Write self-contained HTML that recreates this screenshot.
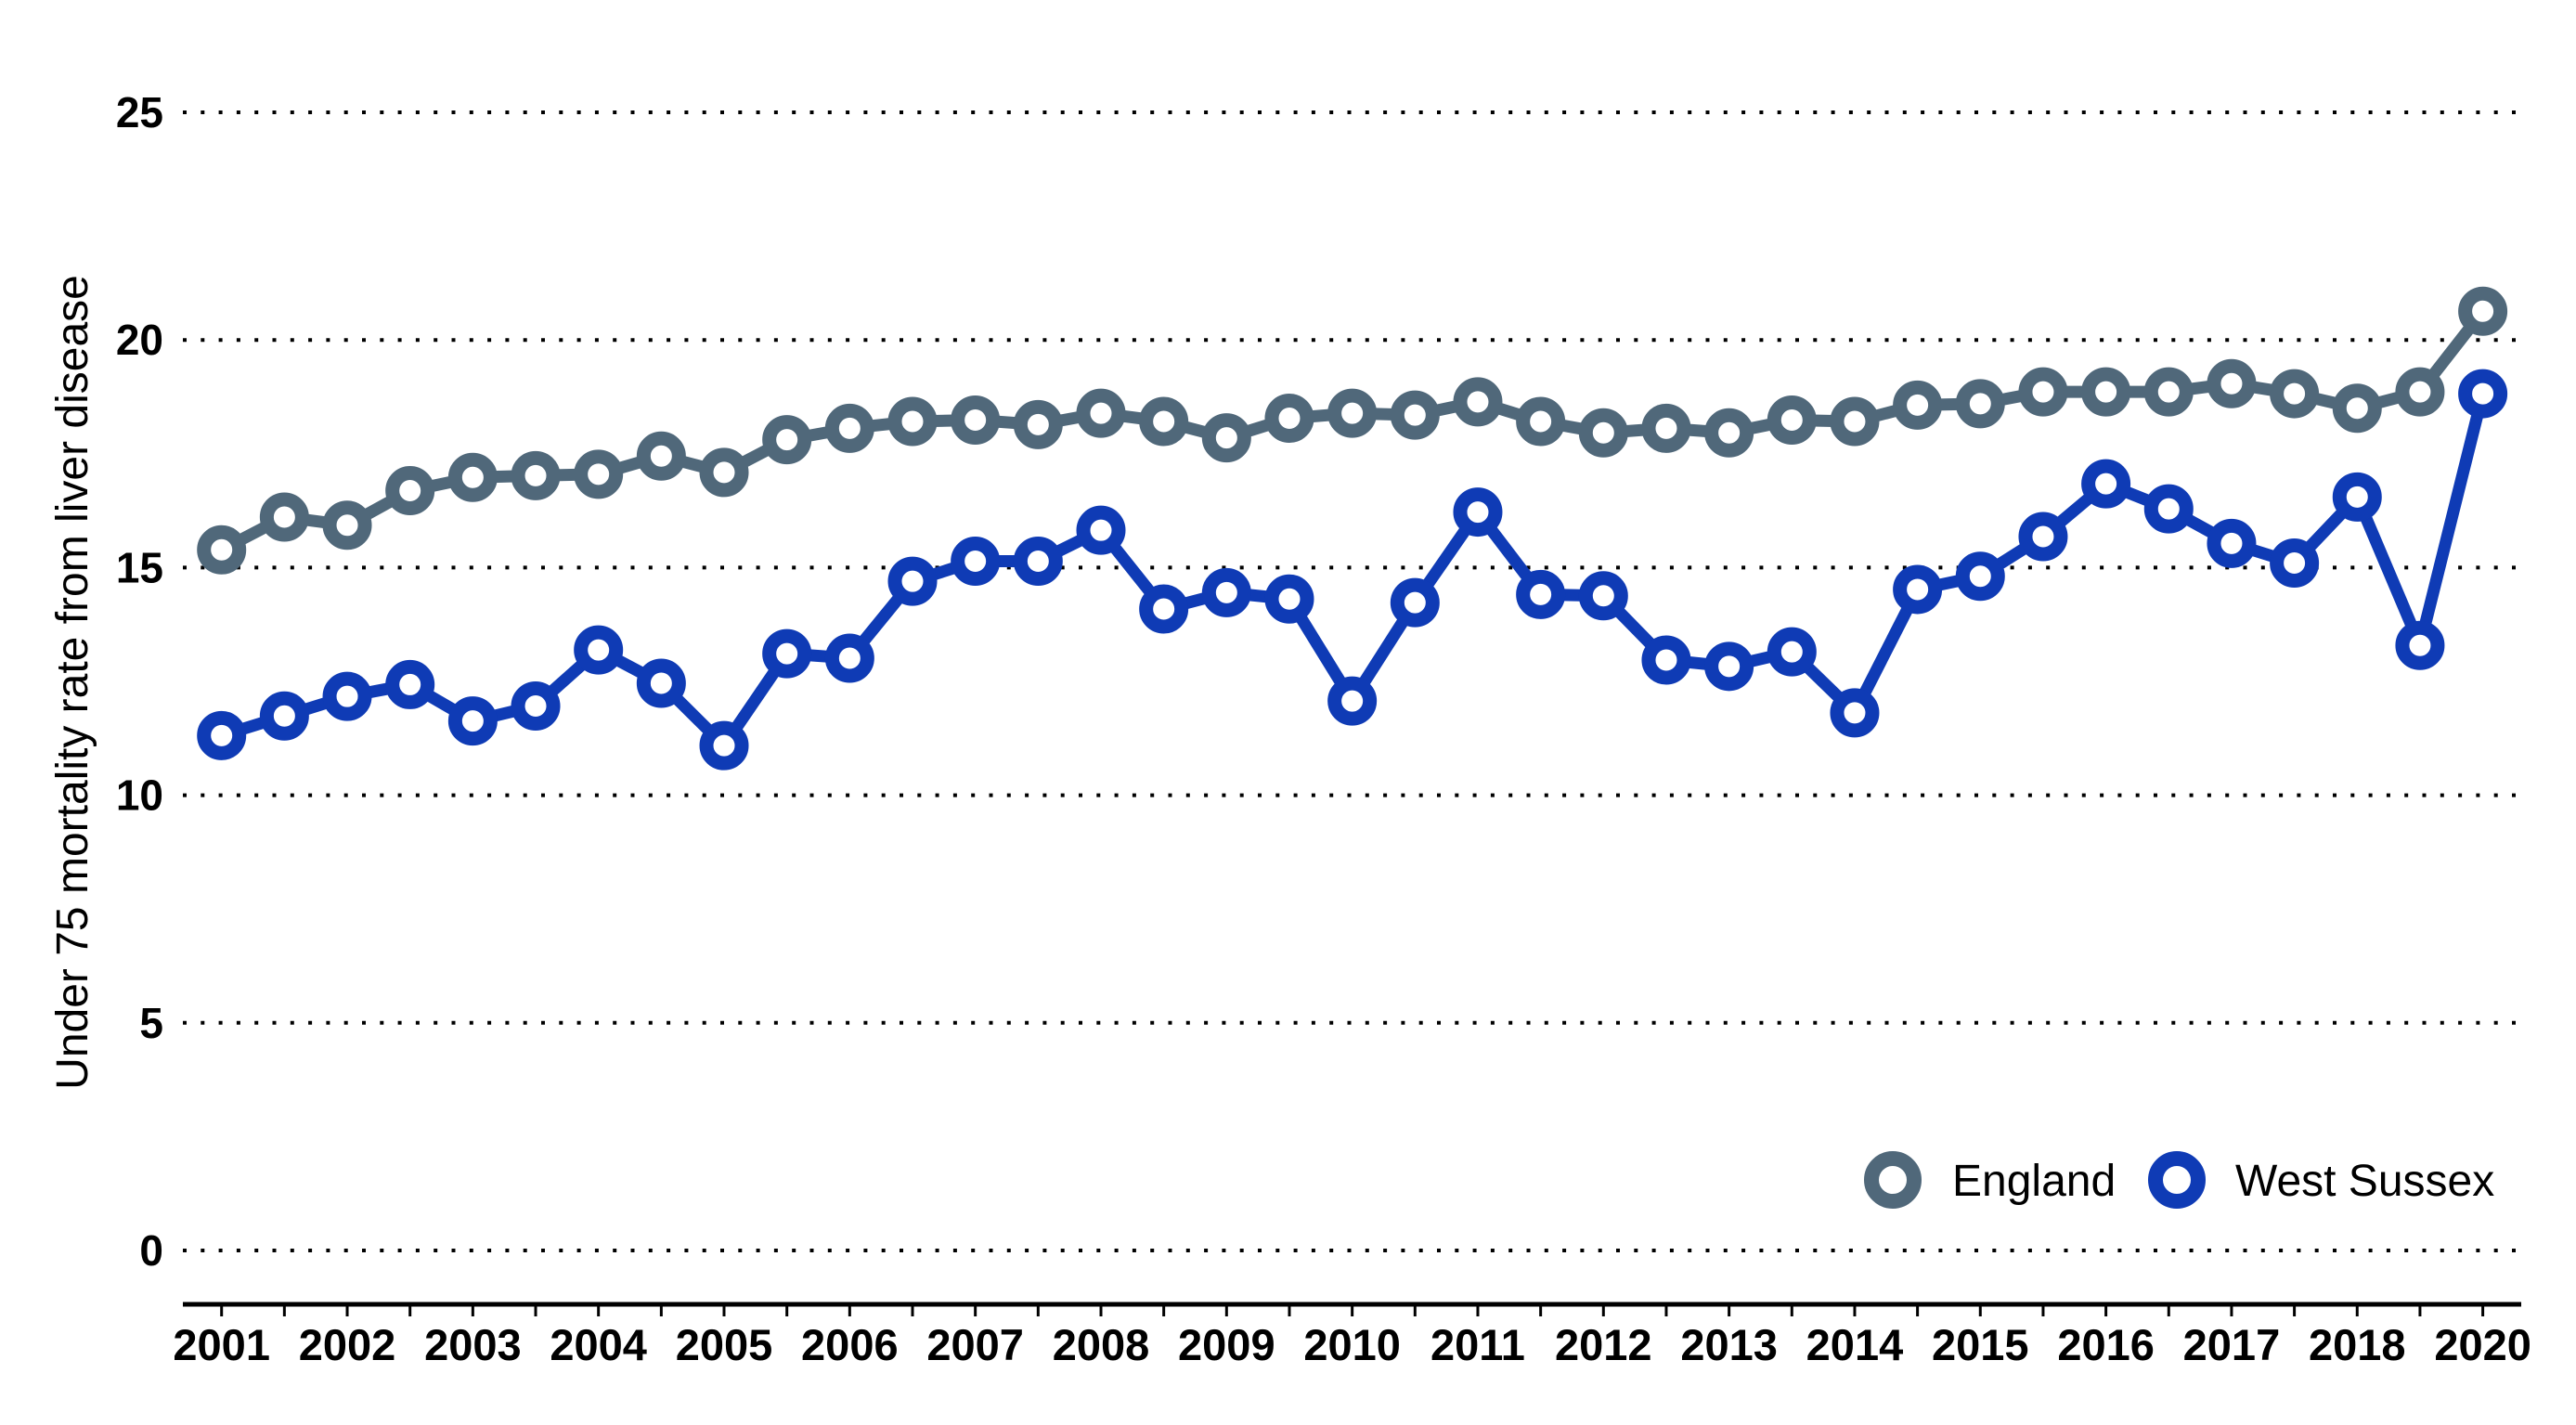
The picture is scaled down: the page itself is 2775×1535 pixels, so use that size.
<!DOCTYPE html>
<html><head><meta charset="utf-8"><style>
html,body{margin:0;padding:0;background:#fff;}
svg{display:block;}
text{font-family:"Liberation Sans",sans-serif;}
</style></head><body>
<svg id="chart" width="2775" height="1535" viewBox="0 0 2775 1535" xmlns="http://www.w3.org/2000/svg">
<g id="grid"></g>
<g id="yaxis"></g>
<g id="xaxis"></g>
<text transform="translate(94,735) rotate(-90)" text-anchor="middle" font-size="48" fill="#000">Under 75 mortality rate from liver disease</text>
<g id="series"></g>
<g>
<g>
<circle cx="2039" cy="1271" r="23" fill="#fff" stroke="#50687a" stroke-width="16"/>
<text x="2103" y="1288" font-size="48" fill="#000">England</text></g>
<g>
<circle cx="2345" cy="1271" r="23" fill="#fff" stroke="#0f3bb5" stroke-width="16"/>
<text x="2408" y="1288" font-size="48" fill="#000">West Sussex</text></g>
</g>
</svg>
<script>
const xLabels=["2001","","2002","","2003","","2004","","2005","","2006","","2007","","2008","","2009","","2010","","2011","","2012","","2013","","2014","","2015","","2016","","2017","","2018","","2020"];
const england=[15.39,16.11,15.93,16.69,16.98,17.02,17.05,17.45,17.09,17.81,18.06,18.21,18.24,18.14,18.39,18.21,17.85,18.28,18.39,18.35,18.64,18.21,17.96,18.06,17.96,18.24,18.21,18.57,18.6,18.86,18.86,18.86,19.04,18.82,18.5,18.86,20.63];
const westSussex=[11.31,11.74,12.17,12.43,11.63,11.96,13.19,12.46,11.09,13.11,13.01,14.7,15.14,15.14,15.82,14.09,14.45,14.31,12.07,14.23,16.22,14.41,14.38,12.97,12.83,13.15,11.81,14.52,14.81,15.68,16.84,16.29,15.53,15.1,16.55,13.29,18.82];
const yTicks=[0,5,10,15,20,25];
const NS="http://www.w3.org/2000/svg";
const X0=238.7,X1=2674.6,Y0=1347,Y25=121;
function xs(i){return X0+(X1-X0)*i/(xLabels.length-1);}
function ys(v){return Y0+(Y25-Y0)*v/25;}
function mk(tag,attrs,parent){const e=document.createElementNS(NS,tag);for(const k in attrs)e.setAttribute(k,attrs[k]);parent.appendChild(e);return e;}
const grid=document.getElementById('grid'),yax=document.getElementById('yaxis'),xax=document.getElementById('xaxis'),ser=document.getElementById('series');
yTicks.forEach(t=>{
  const l=mk('line',{x1:197,x2:2710,y1:ys(t),y2:ys(t),stroke:'#000','stroke-width':4,'stroke-dasharray':'4 15.3'},grid);
  
  
  const tx=mk('text',{x:176,y:ys(t)+16,'text-anchor':'end','font-size':46,'font-weight':'bold',fill:'#000'},yax);
  tx.textContent=t;
  
  
});
const ax=mk('line',{x1:197,x2:2716,y1:1405,y2:1405,stroke:'#000','stroke-width':5},xax);


xLabels.forEach((lb,i)=>{
  const tk=mk('line',{x1:xs(i),x2:xs(i),y1:1405,y2:1418,stroke:'#000','stroke-width':3},xax);
  
  
  if(lb){const t=mk('text',{x:xs(i),y:1465,'text-anchor':'middle','font-size':47,'font-weight':'bold',fill:'#000'},xax);
  t.textContent=lb;
  
  }
});
function drawSeries(vals,color,name){
  const g=mk('g',{},ser);
  
  
  const p=mk('polyline',{points:vals.map((v,i)=>xs(i)+','+ys(v)).join(' '),fill:'none',stroke:color,'stroke-width':13,'stroke-linejoin':'round'},g);
  
  
  vals.forEach((v,i)=>{
    const c=mk('circle',{cx:xs(i),cy:ys(v),r:19,fill:'#fff',stroke:color,'stroke-width':15},g);
    
    
  });
}
drawSeries(england,'#50687a','england');
drawSeries(westSussex,'#0f3bb5','west-sussex');
</script>
</body></html>
